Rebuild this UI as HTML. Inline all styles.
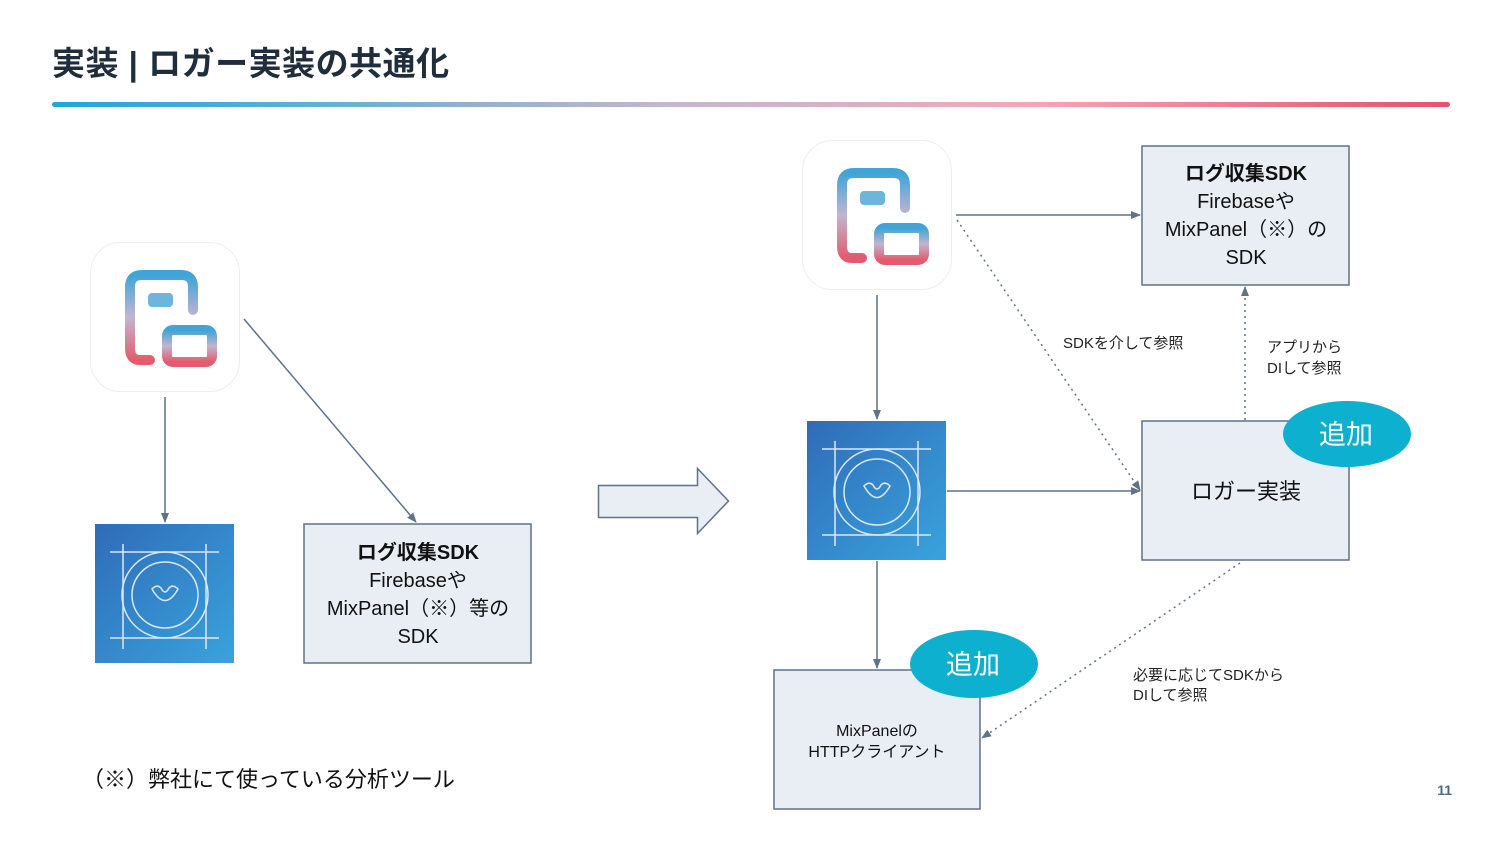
<!DOCTYPE html>
<html><head><meta charset="utf-8"><style>
html,body{margin:0;padding:0;background:#fff;}
svg{display:block;font-family:"Liberation Sans","Noto Sans CJK JP",sans-serif;}
</style></head><body>
<svg width="1500" height="844" viewBox="0 0 1500 844" xmlns="http://www.w3.org/2000/svg">
<defs>
<linearGradient id="hl" x1="0" x2="1" y1="0" y2="0">
<stop offset="0" stop-color="#1aa9d6"/><stop offset="0.45" stop-color="#c9b6d3"/><stop offset="0.7" stop-color="#f2a8b5"/><stop offset="1" stop-color="#e8516a"/>
</linearGradient>
<linearGradient id="lg" x1="0" x2="0" y1="0" y2="1">
<stop offset="0" stop-color="#3fa4d6"/><stop offset="0.5" stop-color="#c2b5d0"/><stop offset="1" stop-color="#e55a6c"/>
</linearGradient>
<linearGradient id="bg" x1="0" x2="1" y1="0" y2="1">
<stop offset="0" stop-color="#2f6cb8"/><stop offset="1" stop-color="#39a3dd"/>
</linearGradient>
<marker id="ar" markerWidth="10" markerHeight="10" refX="9" refY="5" orient="auto" markerUnits="userSpaceOnUse">
<path d="M0,1 L10,5 L0,9 z" fill="#5f7287"/></marker>
<g id="app">
<rect x="0.5" y="0.5" width="149" height="149" rx="30" fill="#fff" stroke="#eeeeee"/>
<path d="M60,118 L50,118 Q40,118 40,106 L40,45 Q40,33 52,33 L91,33 Q103,33 103,45 L103,68" fill="none" stroke="url(#lg)" stroke-width="10" stroke-linecap="round"/>
<rect x="58" y="51" width="25" height="14" rx="4" fill="#6db5da"/>
<rect x="77" y="88" width="45" height="32" rx="6" fill="none" stroke="url(#lg)" stroke-width="10"/>
</g>
<g id="blu">
<rect x="0" y="0" width="139" height="139" fill="url(#bg)"/>
<g fill="none" stroke="#dbe8f5" stroke-width="1.5">
<line x1="15" y1="28" x2="124" y2="28"/><line x1="15" y1="114" x2="124" y2="114"/>
<line x1="28" y1="20" x2="28" y2="125"/><line x1="111" y1="20" x2="111" y2="125"/>
<circle cx="70" cy="71" r="43"/><circle cx="70" cy="71" r="33"/>
<path d="M57,65 Q70,88 83,65 Q78,60 74,64 Q70,72 66,64 Q62,60 57,65 z"/>
</g></g>
</defs>
<text x="52" y="75" font-size="33" font-weight="bold" fill="#1f2d3d" letter-spacing="0.5">実装 | ロガー実装の共通化</text>
<rect x="52" y="102" width="1398" height="5" rx="2.5" fill="url(#hl)"/>

<use href="#app" x="90" y="242"/>
<use href="#blu" x="95" y="524"/>
<line x1="165" y1="397" x2="165" y2="522" stroke="#5f7287" stroke-width="1.5" marker-end="url(#ar)"/>
<line x1="244" y1="319" x2="416" y2="522" stroke="#5f7287" stroke-width="1.5" marker-end="url(#ar)"/>
<rect x="304" y="524" width="227" height="139" fill="#e9eef5" stroke="#5f7287" stroke-width="1.5"/>
<g font-size="20" fill="#111" text-anchor="middle">
<text x="418" y="559" font-weight="bold">ログ収集SDK</text>
<text x="418" y="587">Firebaseや</text>
<text x="418" y="615">MixPanel（※）等の</text>
<text x="418" y="643">SDK</text>
</g>
<text x="82" y="787" font-size="22" fill="#111">（※）弊社にて使っている分析ツール</text>

<path d="M598.5,485.5 L697.5,485.5 L697.5,468.5 L728.5,501 L697.5,533.5 L697.5,517.5 L598.5,517.5 z" fill="#e9eef5" stroke="#5f7287" stroke-width="1.5"/>

<use href="#app" x="802" y="140"/>
<use href="#blu" x="807" y="421"/>
<rect x="1142" y="146" width="207" height="139" fill="#e9eef5" stroke="#5f7287" stroke-width="1.5"/>
<g font-size="20" fill="#111" text-anchor="middle">
<text x="1246" y="180" font-weight="bold">ログ収集SDK</text>
<text x="1246" y="208">Firebaseや</text>
<text x="1246" y="236">MixPanel（※）の</text>
<text x="1246" y="264">SDK</text>
</g>
<rect x="1142" y="421" width="207" height="139" fill="#e9eef5" stroke="#5f7287" stroke-width="1.5"/>
<text x="1246" y="499" font-size="22" fill="#111" text-anchor="middle">ロガー実装</text>
<rect x="774" y="670" width="206" height="139" fill="#e9eef5" stroke="#5f7287" stroke-width="1.5"/>
<text x="877" y="736" font-size="16" fill="#111" text-anchor="middle">MixPanelの</text>
<text x="877" y="757" font-size="16" fill="#111" text-anchor="middle">HTTPクライアント</text>

<line x1="956" y1="215" x2="1140" y2="215" stroke="#5f7287" stroke-width="1.5" marker-end="url(#ar)"/>
<line x1="877" y1="295" x2="877" y2="419" stroke="#5f7287" stroke-width="1.5" marker-end="url(#ar)"/>
<line x1="947" y1="491" x2="1140" y2="491" stroke="#5f7287" stroke-width="1.5" marker-end="url(#ar)"/>
<line x1="877" y1="561" x2="877" y2="668" stroke="#5f7287" stroke-width="1.5" marker-end="url(#ar)"/>
<line x1="957" y1="220" x2="1140" y2="490" stroke="#5f7287" stroke-width="1.5" stroke-dasharray="2,4" marker-end="url(#ar)"/>
<line x1="1245" y1="420" x2="1245" y2="287" stroke="#5f7287" stroke-width="1.5" stroke-dasharray="2,4" marker-end="url(#ar)"/>
<line x1="1240" y1="563" x2="982" y2="738" stroke="#5f7287" stroke-width="1.5" stroke-dasharray="2,4" marker-end="url(#ar)"/>

<g font-size="15" fill="#222">
<text x="1063" y="348">SDKを介して参照</text>
<text x="1267" y="352">アプリから</text>
<text x="1267" y="373">DIして参照</text>
<text x="1133" y="680">必要に応じてSDKから</text>
<text x="1133" y="700">DIして参照</text>
</g>

<ellipse cx="1347" cy="434" rx="64" ry="33" fill="#0eb0d0"/>
<text x="1346" y="444" font-size="27" fill="#fff" text-anchor="middle">追加</text>
<ellipse cx="974" cy="664" rx="64" ry="34" fill="#0eb0d0"/>
<text x="973" y="674" font-size="27" fill="#fff" text-anchor="middle">追加</text>

<text x="1452" y="795" font-size="14" font-weight="bold" fill="#4a6a8a" text-anchor="end">11</text>
</svg>
</body></html>
